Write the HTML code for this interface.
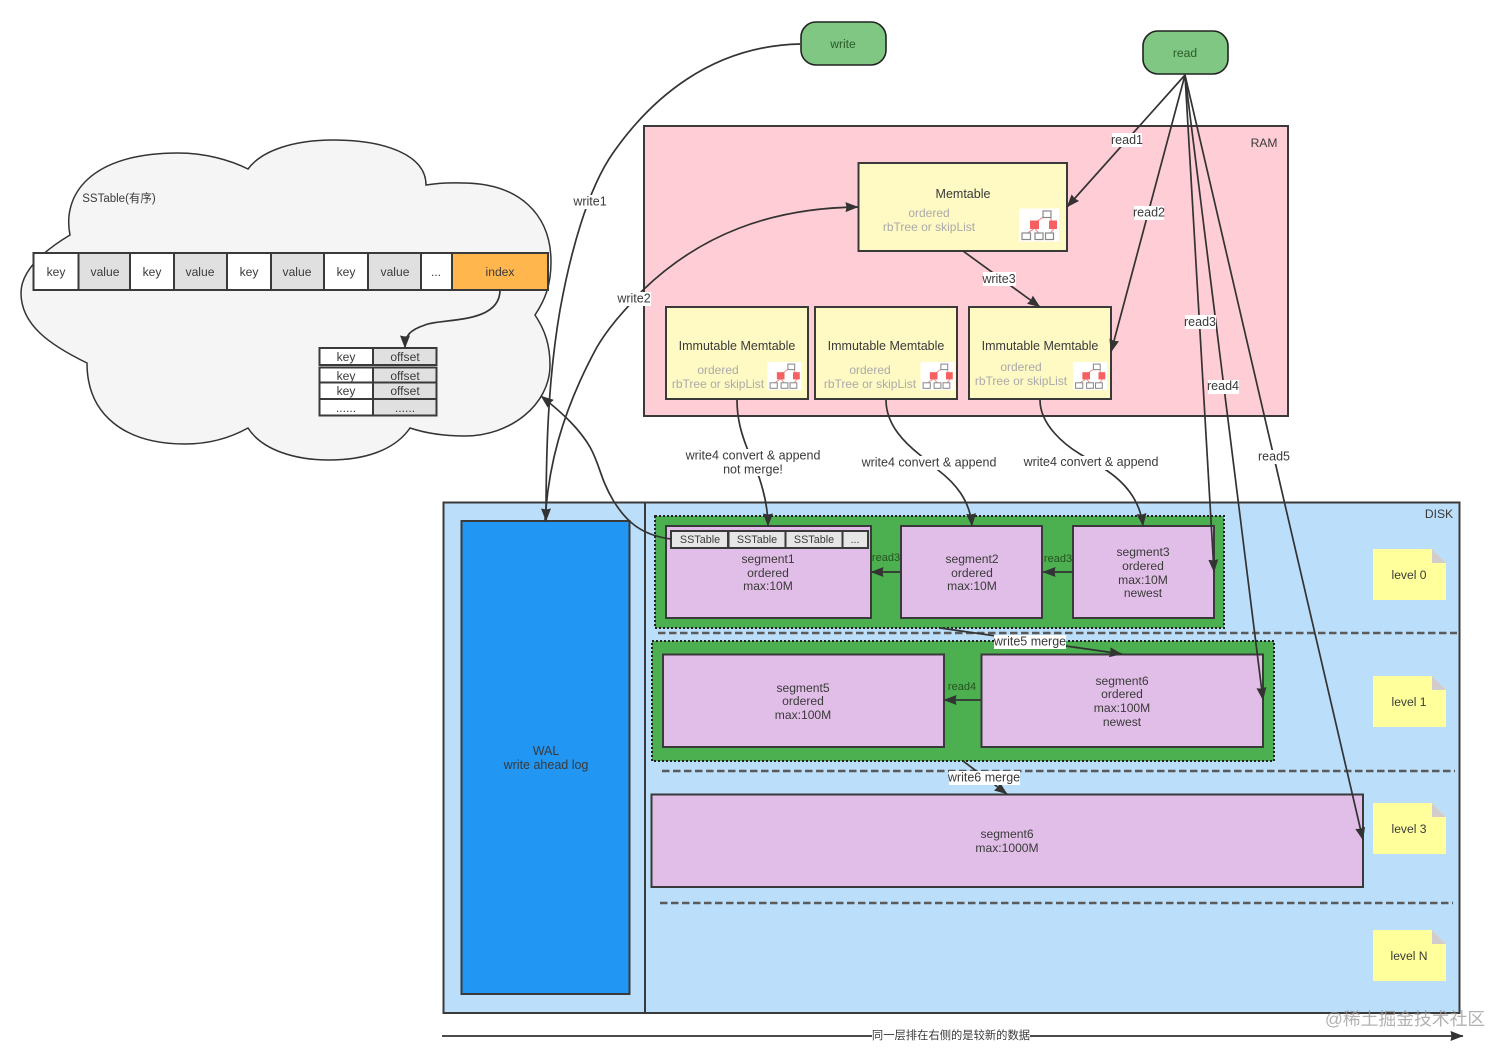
<!DOCTYPE html>
<html><head><meta charset="utf-8"><style>
html,body{margin:0;padding:0;background:#fff}
svg{display:block}
text{font-family:"Liberation Sans","Noto Sans CJK SC",sans-serif;font-size:12.5px;fill:#3a3a3a;text-anchor:middle;dominant-baseline:central;transform:translateY(.2px)}
.g{fill:#aaa;font-size:12px}
.s{font-size:12.1px}
.t{font-size:10.8px}
.l{fill:none;stroke:#333;stroke-width:1.7}
.a{marker-end:url(#ar)}
.b{stroke:#3a3a3a;stroke-width:2}
.d{stroke:#5a5a5a;stroke-width:2.5;stroke-dasharray:7.500 3.500;fill:none}
</style></head><body>
<svg width="1512" height="1057" viewBox="0 0 1512 1057" xmlns="http://www.w3.org/2000/svg">
<defs>
<marker id="ar" markerUnits="userSpaceOnUse" markerWidth="15" markerHeight="12" refX="12.500" refY="5" orient="auto"><path d="M0,0L13,5L0,10L1,5Z" fill="#333"/></marker>
<symbol id="tree" viewBox="0 0 40 33">
<rect width="40" height="33" fill="#fff"/>
<path d="M25,8L18,13M31,8L33,13M15,20L8,25M16,20L20,25M35,20L31,25" stroke="#e89090" stroke-width="1.100" fill="none"/>
<rect x="24" y="2.500" width="8" height="6.500" fill="#fff" stroke="#888" stroke-width="1.200"/>
<rect x="11" y="12" width="9" height="8.500" fill="#f66060"/>
<rect x="30" y="12" width="8" height="8.500" fill="#f66060"/>
<rect x="3" y="24.500" width="8.500" height="6.500" fill="#fff" stroke="#888" stroke-width="1.200"/>
<rect x="16" y="24.500" width="8" height="6.500" fill="#fff" stroke="#888" stroke-width="1.200"/>
<rect x="26.500" y="24.500" width="8" height="6.500" fill="#fff" stroke="#888" stroke-width="1.200"/>
</symbol>
</defs>

<!-- cloud -->
<path d="M70,235 C62,195 90,153 178,153 C205,153 230,160 248,169 C262,150 295,140 333,140 C385,140 426,155 426,185 C445,182 455,183 462,183 C520,183 551,215 551,262 C551,285 545,300 535,315 C545,330 550,345 550,365 C550,405 510,436 465,436 C445,436 425,433 410,428 C395,450 365,460 329,460 C295,460 262,450 248,428 C230,438 210,444 185,444 C125,444 87,415 87,363 C50,345 21,325 21,293 C21,270 45,250 70,235 Z" fill="#f5f5f5" stroke="#333" stroke-width="1.500"/>
<text x="119" y="199" style="font-size:11.500px">SSTable(有序)</text>

<!-- sstable row -->
<g class="b">
<rect x="33.500" y="253" width="45" height="37" fill="#fff"/>
<rect x="78.500" y="253" width="51.500" height="37" fill="#e0e0e0"/>
<rect x="130" y="253" width="44" height="37" fill="#fff"/>
<rect x="174" y="253" width="53" height="37" fill="#e0e0e0"/>
<rect x="227" y="253" width="44" height="37" fill="#fff"/>
<rect x="271" y="253" width="53" height="37" fill="#e0e0e0"/>
<rect x="324" y="253" width="44" height="37" fill="#fff"/>
<rect x="368" y="253" width="53" height="37" fill="#e0e0e0"/>
<rect x="421" y="253" width="31" height="37" fill="#fff"/>
<rect x="452" y="253" width="96" height="37" fill="#ffb74d"/>
</g>
<text x="56" y="272" class="s">key</text><text x="105" y="272" class="s">value</text>
<text x="152" y="272" class="s">key</text><text x="200" y="272" class="s">value</text>
<text x="249" y="272" class="s">key</text><text x="297" y="272" class="s">value</text>
<text x="346" y="272" class="s">key</text><text x="395" y="272" class="s">value</text>
<text x="436" y="272" class="s">...</text><text x="500" y="272" class="s">index</text>

<!-- index table -->
<g class="b">
<rect x="319.500" y="348" width="53.500" height="17" fill="#fff"/><rect x="373" y="348" width="63.500" height="17" fill="#e0e0e0"/>
<rect x="319.500" y="367.500" width="53.500" height="15" fill="#fff"/><rect x="373" y="367.500" width="63.500" height="15" fill="#e0e0e0"/>
<rect x="319.500" y="382.500" width="53.500" height="16.500" fill="#fff"/><rect x="373" y="382.500" width="63.500" height="16.500" fill="#e0e0e0"/>
<rect x="319.500" y="399" width="53.500" height="16.500" fill="#fff"/><rect x="373" y="399" width="63.500" height="16.500" fill="#e0e0e0"/>
</g>
<text x="346" y="357" class="s">key</text><text x="405" y="357" class="s">offset</text>
<text x="346" y="376" class="s">key</text><text x="405" y="376" class="s">offset</text>
<text x="346" y="391" class="s">key</text><text x="405" y="391" class="s">offset</text>
<text x="346" y="408" class="s">......</text><text x="405" y="408" class="s">......</text>
<path class="l a" d="M500,290 C500,325 440,318 425,325 C410,330 405,335 405,348"/>

<!-- RAM -->
<rect x="644" y="126" width="644" height="290" fill="#ffcdd6" class="b"/>
<text x="1264" y="143" class="s">RAM</text>
<rect x="858.500" y="163" width="208.500" height="88" fill="#fff9c4" class="b"/>
<text x="963" y="194">Memtable</text>
<text x="929" y="213" class="g">ordered</text>
<text x="929" y="227" class="g">rbTree or skipList</text>
<use href="#tree" x="1019" y="208" width="40" height="34"/>

<rect x="666" y="307" width="142" height="92" fill="#fff9c4" class="b"/>
<text x="737" y="346">Immutable Memtable</text>
<text x="718" y="370" class="g">ordered</text><text x="718" y="384" class="g">rbTree or skipList</text>
<use href="#tree" x="767" y="362" width="35" height="28"/>

<rect x="815" y="307" width="142" height="92" fill="#fff9c4" class="b"/>
<text x="886" y="346">Immutable Memtable</text>
<text x="870" y="370" class="g">ordered</text><text x="870" y="384" class="g">rbTree or skipList</text>
<use href="#tree" x="920" y="362" width="35" height="28"/>

<rect x="969" y="307" width="142" height="92" fill="#fff9c4" class="b"/>
<text x="1040" y="346">Immutable Memtable</text>
<text x="1021" y="367" class="g">ordered</text><text x="1021" y="381" class="g">rbTree or skipList</text>
<use href="#tree" x="1072" y="362" width="36" height="28"/>

<!-- DISK -->
<rect x="443.500" y="502.500" width="1016" height="510.500" fill="#bbdefb" class="b"/>
<line x1="645" y1="502" x2="645" y2="1013" class="b"/>
<text x="1439" y="514" class="s">DISK</text>
<rect x="461.500" y="521" width="168" height="473" fill="#2196f3" class="b"/>
<text x="546" y="751">WAL</text><text x="546" y="765">write ahead log</text>

<!-- level 0 group -->
<rect x="655" y="516" width="569" height="112" fill="#4caf50" stroke="#222" stroke-width="2" stroke-dasharray="2 2"/>
<g class="b">
<rect x="666" y="526" width="205" height="92" fill="#e1bee7"/>
<rect x="901" y="526" width="141" height="92" fill="#e1bee7"/>
<rect x="1073" y="526" width="141" height="92" fill="#e1bee7"/>
<rect x="671" y="531" width="57" height="17" fill="#e6e6e6"/>
<rect x="728.500" y="531" width="57" height="17" fill="#e6e6e6"/>
<rect x="785.500" y="531" width="57" height="17" fill="#e6e6e6"/>
<rect x="842.500" y="531" width="25.500" height="17" fill="#e6e6e6"/>
</g>
<text x="700" y="540" class="t">SSTable</text>
<text x="757" y="540" class="t">SSTable</text>
<text x="814" y="540" class="t">SSTable</text>
<text x="855" y="540" class="t">...</text>
<text x="768" y="559" class="s">segment1</text><text x="768" y="573" class="s">ordered</text><text x="768" y="586" class="s">max:10M</text>
<text x="972" y="559" class="s">segment2</text><text x="972" y="573" class="s">ordered</text><text x="972" y="586" class="s">max:10M</text>
<text x="1143" y="552" class="s">segment3</text><text x="1143" y="566" class="s">ordered</text><text x="1143" y="580" class="s">max:10M</text><text x="1143" y="593" class="s">newest</text>
<path class="l a" d="M901,572L871,572"/>
<path class="l a" d="M1073,572L1043,572"/>
<text x="886" y="558" style="font-size:11px;fill:#24541f">read3</text>
<text x="1058" y="559" style="font-size:11px;fill:#24541f">read3</text>

<line x1="658" y1="633" x2="1457" y2="633" class="d"/>

<!-- level 1 group -->
<rect x="652" y="641" width="622" height="120" fill="#4caf50" stroke="#222" stroke-width="2" stroke-dasharray="2 2"/>
<rect x="663" y="654.500" width="281" height="92.500" fill="#e1bee7" class="b"/>
<rect x="981.500" y="654.500" width="281.500" height="92.500" fill="#e1bee7" class="b"/>
<text x="803" y="688" class="s">segment5</text><text x="803" y="701" class="s">ordered</text><text x="803" y="715" class="s">max:100M</text>
<text x="1122" y="681" class="s">segment6</text><text x="1122" y="694" class="s">ordered</text><text x="1122" y="708" class="s">max:100M</text><text x="1122" y="722" class="s">newest</text>
<path class="l a" d="M981,700L944,700"/>
<text x="962" y="687" style="font-size:11px;fill:#24541f">read4</text>

<line x1="662" y1="771" x2="1455" y2="771" class="d"/>
<rect x="651.500" y="794.500" width="711.500" height="92.500" fill="#e1bee7" class="b"/>
<text x="1007" y="834" class="s">segment6</text><text x="1007" y="848" class="s">max:1000M</text>
<line x1="660" y1="903" x2="1453" y2="903" class="d"/>

<!-- notes -->
<g>
<path d="M1373,549H1432L1446,563V600H1373Z" fill="#ffff9c"/><path d="M1432,549L1446,563H1432Z" fill="#d3cccc"/>
<path d="M1373,676H1432L1446,690V727H1373Z" fill="#ffff9c"/><path d="M1432,676L1446,690H1432Z" fill="#d3cccc"/>
<path d="M1373,803H1432L1446,817V854H1373Z" fill="#ffff9c"/><path d="M1432,803L1446,817H1432Z" fill="#d3cccc"/>
<path d="M1373,930H1432L1446,944V981H1373Z" fill="#ffff9c"/><path d="M1432,930L1446,944H1432Z" fill="#d3cccc"/>
</g>
<text x="1409" y="575" class="s">level 0</text><text x="1409" y="702" class="s">level 1</text>
<text x="1409" y="829" class="s">level 3</text><text x="1409" y="956" class="s">level N</text>

<!-- write/read nodes -->
<rect x="801" y="22" width="85" height="43" rx="15" fill="#81c784" stroke="#222" stroke-width="1.600"/>
<text x="843" y="44" class="s" style="fill:#2a5a28">write</text>
<rect x="1143" y="31" width="85" height="43" rx="15" fill="#81c784" stroke="#222" stroke-width="1.600"/>
<text x="1185" y="53" class="s" style="fill:#2a5a28">read</text>

<!-- connectors -->
<path class="l a" d="M800,44 C710,46 650,100 613,153 C587,190 570,255 560,310 C548,380 546,450 546,521"/>
<path class="l a" d="M545,521 C548,470 560,415 597,347 C610,325 625,310 643,290 C700,235 770,208 858,207"/>
<path class="l a" d="M671,539 C640,535 625,520 613,500 C600,478 600,465 590,447 C580,430 565,415 541,396"/>
<path class="l a" d="M737,400 C737,420 742,435 747,448 L759,477 C765,495 768,510 768,526"/>
<path class="l a" d="M886,400 C886,425 905,443 920,455 L938,470 C955,483 970,500 972,526"/>
<path class="l a" d="M1040,400 C1040,425 1065,445 1080,454 L1103,468 C1125,482 1140,500 1143,526"/>
<path class="l a" d="M963,251L1040,307"/>
<path class="l a" d="M1185,75L1067,207"/>
<path class="l a" d="M1185,75L1111,352"/>
<path class="l a" d="M1185,75L1214,572"/>
<path class="l a" d="M1185,75L1263,700"/>
<path class="l a" d="M1185,75L1363,840"/>
<path class="l a" d="M940,628L1122,654"/>
<path class="l a" d="M963,761L1007,794"/>
<path class="l a" d="M442,1036L1463,1036"/>

<!-- connector labels -->
<g fill="#fff">
<rect x="574" y="195" width="33" height="14"/>
<rect x="618" y="292" width="33" height="14"/>
<rect x="983" y="272" width="33" height="14"/>
<rect x="1112" y="133" width="30" height="14"/>
<rect x="1134" y="206" width="30" height="14"/>
<rect x="1185" y="315" width="31" height="14"/>
<rect x="1208" y="380" width="31" height="14"/>
<rect x="1259" y="450" width="30" height="14"/>
<rect x="686" y="449" width="134" height="27"/>
<rect x="862" y="456" width="134" height="14"/>
<rect x="1024" y="456" width="134" height="14"/>
<rect x="994" y="635" width="72" height="14"/>
<rect x="949" y="771" width="71" height="14"/>
<rect x="872" y="1029" width="158" height="14"/>
</g>
<text x="590" y="201.500">write1</text>
<text x="634" y="298.500">write2</text>
<text x="999" y="279">write3</text>
<text x="1127" y="140">read1</text>
<text x="1149" y="212.500">read2</text>
<text x="1200" y="322">read3</text>
<text x="1223" y="386">read4</text>
<text x="1274" y="456.500">read5</text>
<text x="753" y="455.500">write4 convert &amp; append</text>
<text x="753" y="469.500">not merge!</text>
<text x="929" y="462.500">write4 convert &amp; append</text>
<text x="1091" y="462">write4 convert &amp; append</text>
<text x="1030" y="641.500">write5 merge</text>
<text x="984" y="777.500">write6 merge</text>
<text x="951" y="1036" style="font-size:11.300px">同一层排在右侧的是较新的数据</text>
<text x="1405" y="1019" style="font-size:17.800px;fill:#999;opacity:.75">@稀土掘金技术社区</text>
</svg>
</body></html>
